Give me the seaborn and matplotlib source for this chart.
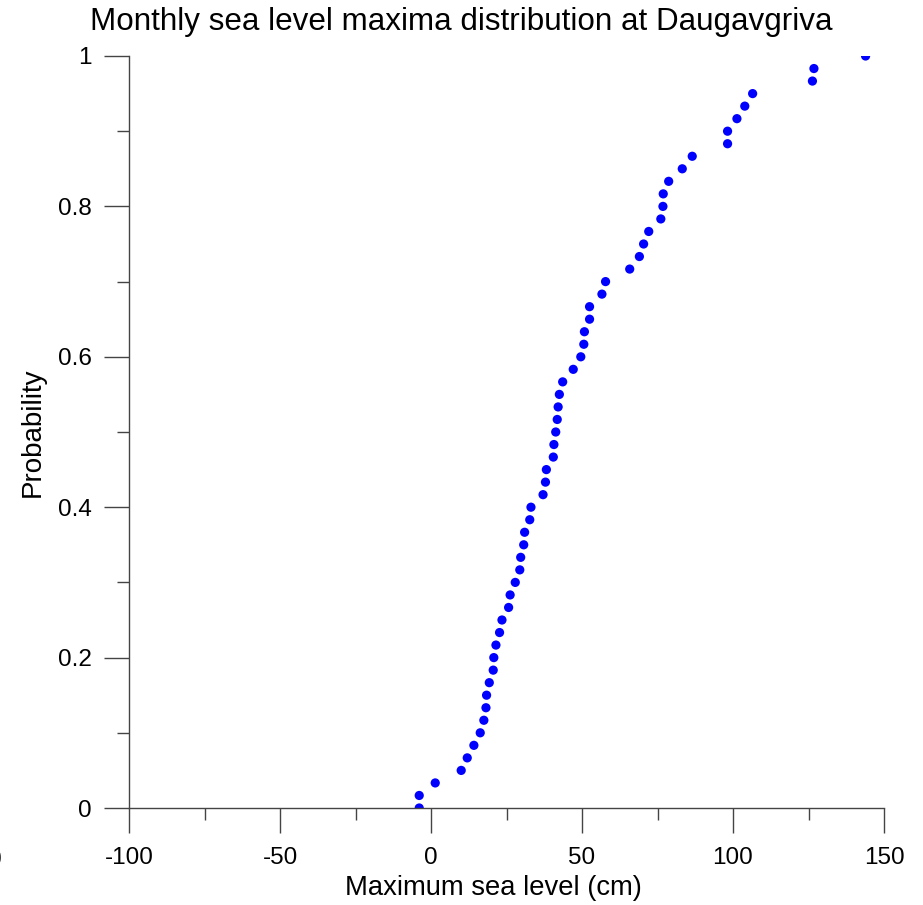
import matplotlib
matplotlib.use("Agg")
import matplotlib.pyplot as plt
import matplotlib.transforms as mtransforms
import numpy as np
import pandas as pd
import seaborn as sns

# Sorted monthly sea level maxima (cm) and their empirical probabilities
sea_level_cm = [
    -3.9, -3.9, 1.4, 10.0, 12.0, 14.2, 16.3, 17.5, 18.2, 18.4,
    19.3, 20.6, 20.8, 21.5, 22.7, 23.5, 25.7, 26.2, 27.9, 29.4,
    29.7, 30.7, 31.0, 32.7, 33.1, 37.1, 37.9, 38.2, 40.5, 40.7,
    41.3, 41.8, 42.1, 42.5, 43.6, 47.1, 49.6, 50.6, 50.8, 52.5,
    52.5, 56.6, 57.8, 65.8, 69.0, 70.4, 72.1, 76.1, 76.8, 76.9,
    78.7, 83.2, 86.5, 98.2, 98.2, 101.3, 103.9, 106.5, 126.3, 126.8,
    143.9,
]
probability = [i / 60 for i in range(61)]

x_ticks = [-100, -50, 0, 50, 100, 150]
x_minor_ticks = [-75, -25, 25, 75, 125]
y_ticks = [0, 0.2, 0.4, 0.6, 0.8, 1]
y_tick_labels = ["0", "0.2", "0.4", "0.6", "0.8", "1"]
y_minor_ticks = [0.1, 0.3, 0.5, 0.7, 0.9]

df = pd.DataFrame({"level": sea_level_cm, "prob": probability})

sns.set_theme(style="ticks")
plt.rcParams["font.family"] = ["Liberation Sans", "DejaVu Sans"]
plt.rcParams["text.color"] = "black"
plt.rcParams["axes.labelcolor"] = "black"

fig = plt.figure(figsize=(9.23, 9.05), dpi=100)
ax = fig.add_axes([129 / 923, 97 / 905, 755 / 923, 752 / 905])

sns.scatterplot(data=df, x="level", y="prob", ax=ax, color="#0000ff",
                s=44, linewidth=0, edgecolor="none", legend=False)

ax.set_xlim(-100, 150)
ax.set_ylim(0, 1)
ax.set_xticks(x_ticks)
ax.set_xticklabels([str(t) for t in x_ticks])
ax.set_xticks(x_minor_ticks, minor=True)
ax.set_yticks(y_ticks)
ax.set_yticklabels(y_tick_labels)
ax.set_yticks(y_minor_ticks, minor=True)

axis_col = "#444444"
for side in ("top", "right"):
    ax.spines[side].set_visible(False)
for side in ("left", "bottom"):
    ax.spines[side].set_color(axis_col)
    ax.spines[side].set_linewidth(1.0)

tick_fs = 17.5
ax.tick_params(axis="both", which="major", direction="out", length=18,
               width=1.0, color=axis_col, labelsize=tick_fs, labelcolor="black")
ax.tick_params(axis="both", which="minor", direction="out", length=8.6,
               width=1.0, color=axis_col)
ax.tick_params(axis="x", which="major", pad=10)
ax.tick_params(axis="y", which="major", pad=9)

# The -150 label sits left of the axis start and runs off the figure edge
trans = mtransforms.blended_transform_factory(ax.transData, fig.transFigure)
ax.text(-150, 1 - 860 / 905, "-150", transform=trans, ha="center", va="center",
        fontsize=tick_fs, clip_on=False)

ax.set_xlabel("Maximum sea level (cm)", fontsize=19.7)
ax.xaxis.set_label_coords((493 - 129) / 755, -(888 - 808) / 752)
ax.xaxis.label.set_va("center")
ax.set_ylabel("Probability", fontsize=20)
ax.yaxis.set_label_coords(-(129 - 33) / 755, 0.5)
ax.yaxis.label.set_va("center")

fig.text(0.5, 1 - 22 / 905, "Monthly sea level maxima distribution at Daugavgriva",
         ha="center", va="center", fontsize=22.6)

fig.savefig("out.png", dpi=100, facecolor="white")
